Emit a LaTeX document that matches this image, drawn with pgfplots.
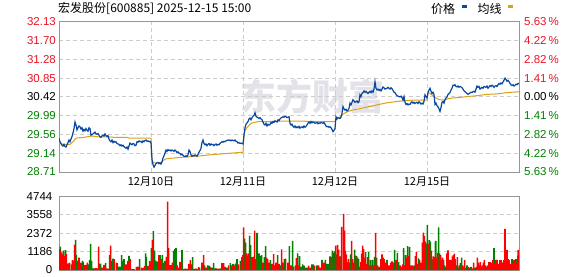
\documentclass[border=0pt]{standalone}
\usepackage{pgfplots}
\pgfplotsset{compat=1.18}
\usepackage{fontspec}
\setmainfont{Liberation Sans}
\newfontfamily\cjk{Noto Sans CJK SC}
\definecolor{pred}{RGB}{235,20,35}
\definecolor{pgreen}{RGB}{0,128,0}
\definecolor{lineblue}{RGB}{10,72,160}
\definecolor{avgorange}{RGB}{220,160,25}
\definecolor{gridgray}{RGB}{204,204,204}
\definecolor{framegray}{RGB}{150,150,150}
\definecolor{barred}{RGB}{255,0,0}
\definecolor{bargreen}{RGB}{0,128,0}
\definecolor{wm}{RGB}{226,226,232}
\newcommand{\numfont}{\fontsize{11.5}{12}\selectfont}
\begin{document}
\begin{tikzpicture}[x=1pt,y=1pt]
\useasboundingbox (0,0) rectangle (578,-276);
% watermark
\node[anchor=center, inner sep=0pt, font=\cjk\bfseries\fontsize{36}{36}\selectfont, text=wm] at (312,-97) {东方财富};
% title
\node[anchor=west, inner sep=0pt, font=\cjk\fontsize{12}{12}\selectfont] at (58,-8.5) {宏发股份[600885] 2025-12-15 15:00};
% legend
\node[anchor=west, inner sep=0pt, font=\cjk\fontsize{12}{12}\selectfont] at (431,-9) {价格};
\fill[lineblue] (462.3,-4.7) rectangle (467,-7.5);
\node[anchor=west, inner sep=0pt, font=\cjk\fontsize{12}{12}\selectfont] at (477.3,-9) {均线};
\fill[avgorange] (508,-4.7) rectangle (513.3,-7.5);

% price axis
\begin{axis}[
  at={(59pt,-172pt)}, anchor=south west, scale only axis,
  width=460pt, height=150pt,
  xmin=0, xmax=460, ymin=28.71, ymax=32.13,
  axis line style={framegray, line width=1pt},
  major tick length=0pt,
  xtick={92,184,276,368},
  xticklabels={12月10日,12月11日,12月12日,12月15日},
  xticklabel style={font=\cjk\fontsize{11}{11}\selectfont, inner sep=0pt, anchor=north, yshift=-4.5pt},
  ytick={28.71,29.14,29.56,29.99,30.42,30.85,31.28,31.70,32.13},
  yticklabels={\textcolor{pgreen}{28.71},\textcolor{pgreen}{29.14},\textcolor{pgreen}{29.56},\textcolor{pgreen}{29.99},30.42,\textcolor{pred}{30.85},\textcolor{pred}{31.28},\textcolor{pred}{31.70},\textcolor{pred}{32.13}},
  yticklabel style={font=\numfont, inner sep=0pt, anchor=east, xshift=-3pt},
  grid=major,
  grid style={gridgray, line width=1pt, dash pattern=on 4pt off 3pt},
]
\addplot[avgorange, line width=1pt] coordinates {
(0,29.40)(2,29.35)(4,29.34)(11,29.34)(14,29.40)(17,29.48)(20,29.49)(25,29.50)(30,29.52)(33,29.53)(40,29.51)(50,29.51)(55,29.50)(68,29.50)(70,29.48)(92,29.48)
(93,28.95)(95,28.92)(102,28.92)(104,28.97)(107,29.01)(111,29.02)(125,29.05)(138,29.07)(150,29.10)(161,29.12)(172,29.14)(184,29.16)
(185,29.55)(186,29.65)(188,29.72)(190,29.77)(192,29.82)(195,29.84)(200,29.86)(210,29.86)(220,29.87)(240,29.87)(260,29.86)(276,29.86)
(277,29.93)(280,29.94)(284,30.03)(288,30.08)(293,30.12)(300,30.15)(310,30.20)(318,30.24)(326,30.28)(335,30.31)(343,30.33)(355,30.35)(368,30.35)
(369,30.52)(371,30.50)(374,30.45)(377,30.40)(380,30.36)(385,30.35)(389,30.38)(395,30.40)(401,30.41)(408,30.43)(418,30.45)(428,30.48)(438,30.49)(448,30.52)(460,30.54)
};
\addplot[lineblue, line width=1.2pt] coordinates {
(0,29.48)(1,29.40)(2,29.36)(3,29.32)(4,29.30)(5,29.34)(6,29.29)(7,29.28)(8,29.33)(9,29.38)(10,29.44)(11,29.40)(12,29.46)(13,29.52)(14,29.60)(15,29.70)(16,29.85)(17,29.78)(18,29.67)(19,29.72)(20,29.76)(21,29.74)(22,29.69)(23,29.72)(24,29.64)(25,29.68)(26,29.65)(27,29.70)(28,29.66)(29,29.64)(30,29.72)(31,29.70)(32,29.55)(33,29.56)(34,29.58)(35,29.60)(36,29.62)(37,29.58)(38,29.57)(39,29.59)(40,29.55)(41,29.51)(42,29.50)(43,29.53)(44,29.55)(45,29.53)(46,29.58)(47,29.54)(48,29.52)(49,29.54)(50,29.46)(51,29.42)(52,29.40)(53,29.44)(54,29.38)(55,29.41)(56,29.39)(57,29.40)(58,29.36)(59,29.35)(60,29.34)(61,29.31)(62,29.33)(63,29.30)(64,29.32)(65,29.29)(66,29.27)(67,29.25)(68,29.28)(69,29.23)(70,29.30)(71,29.37)(72,29.35)(73,29.33)(74,29.36)(75,29.35)(76,29.31)(77,29.32)(78,29.40)(79,29.39)(80,29.42)(81,29.40)(82,29.41)(83,29.38)(84,29.42)(85,29.40)(86,29.43)(87,29.44)(88,29.41)(89,29.42)(90,29.40)(91,29.41)(92,29.38)
(93,29.00)(94,28.88)(95,28.82)(96,28.86)(97,28.90)(98,28.92)(99,28.93)(100,28.90)(101,28.92)(102,28.89)(103,28.94)(104,29.03)(105,29.08)(106,29.14)(107,29.21)(108,29.18)(109,29.22)(110,29.20)(111,29.21)(112,29.19)(113,29.21)(114,29.20)(115,29.18)(116,29.21)(117,29.19)(118,29.15)(119,29.17)(120,29.14)(121,29.13)(122,29.10)(123,29.12)(124,29.09)(125,29.07)(126,29.06)(127,29.08)(128,29.06)(129,29.10)(130,29.21)(131,29.18)(132,29.10)(133,29.07)(134,29.09)(135,29.08)(136,29.10)(137,29.09)(138,29.07)(139,29.11)(140,29.16)(141,29.20)(142,29.25)(143,29.38)(144,29.44)(145,29.36)(146,29.33)(147,29.35)(148,29.31)(149,29.34)(150,29.36)(151,29.32)(152,29.35)(153,29.33)(154,29.34)(155,29.31)(156,29.33)(157,29.35)(158,29.32)(159,29.34)(160,29.33)(161,29.36)(162,29.38)(163,29.40)(164,29.39)(165,29.41)(166,29.40)(167,29.42)(168,29.43)(169,29.44)(170,29.43)(171,29.44)(172,29.42)(173,29.44)(174,29.43)(175,29.42)(176,29.44)(177,29.41)(178,29.40)(179,29.37)(180,29.38)(181,29.36)(182,29.37)(183,29.36)(184,29.35)
(185,29.55)(186,29.72)(187,29.80)(188,29.83)(189,29.86)(190,29.92)(191,29.94)(192,29.90)(193,29.95)(194,29.98)(195,30.00)(196,30.06)(197,29.98)(198,29.96)(199,29.95)(200,29.93)(201,29.95)(202,29.92)(203,29.90)(204,29.85)(205,29.80)(206,29.78)(207,29.82)(208,29.76)(209,29.80)(210,29.78)(211,29.79)(212,29.84)(213,29.82)(214,29.86)(215,29.84)(216,29.88)(217,29.86)(218,29.85)(219,29.90)(220,29.88)(221,29.92)(222,29.94)(223,29.96)(224,29.97)(225,29.96)(226,29.98)(227,29.97)(228,29.95)(229,29.96)(230,29.97)(231,29.82)(232,29.78)(233,29.80)(234,29.75)(235,29.73)(236,29.76)(237,29.72)(238,29.74)(239,29.72)(240,29.75)(241,29.71)(242,29.73)(243,29.74)(244,29.72)(245,29.76)(246,29.73)(247,29.75)(248,29.78)(249,29.82)(250,29.85)(251,29.82)(252,29.86)(253,29.83)(254,29.85)(255,29.84)(256,29.82)(257,29.83)(258,29.84)(259,29.81)(260,29.83)(261,29.82)(262,29.84)(263,29.83)(264,29.82)(265,29.84)(266,29.80)(267,29.76)(268,29.74)(269,29.75)(270,29.73)(271,29.74)(272,29.72)(273,29.68)(274,29.63)(275,29.66)(276,29.70)
(277,29.97)(278,29.92)(279,29.95)(280,29.94)(281,29.93)(282,29.96)(283,30.05)(284,30.20)(285,30.15)(286,30.12)(287,30.14)(288,30.10)(289,30.12)(290,30.16)(291,30.28)(292,30.24)(293,30.30)(294,30.36)(295,30.33)(296,30.30)(297,30.31)(298,30.33)(299,30.29)(300,30.31)(301,30.47)(302,30.43)(303,30.50)(304,30.52)(305,30.56)(306,30.53)(307,30.55)(308,30.52)(309,30.50)(310,30.53)(311,30.55)(312,30.52)(313,30.56)(314,30.53)(315,30.60)(316,30.77)(317,30.62)(318,30.58)(319,30.60)(320,30.57)(321,30.59)(322,30.56)(323,30.60)(324,30.65)(325,30.63)(326,30.60)(327,30.61)(328,30.62)(329,30.64)(330,30.62)(331,30.60)(332,30.63)(333,30.61)(334,30.57)(335,30.53)(336,30.52)(337,30.48)(338,30.45)(339,30.44)(340,30.43)(341,30.42)(342,30.44)(343,30.41)(344,30.35)(345,30.43)(346,30.30)(347,30.25)(348,30.27)(349,30.24)(350,30.26)(351,30.25)(352,30.29)(353,30.31)(354,30.28)(355,30.30)(356,30.27)(357,30.29)(358,30.30)(359,30.27)(360,30.31)(361,30.29)(362,30.26)(363,30.28)(364,30.26)(365,30.32)(366,30.47)(367,30.43)(368,30.40)
(369,30.52)(370,30.58)(371,30.62)(372,30.55)(373,30.50)(374,30.53)(375,30.48)(376,30.25)(377,30.28)(378,30.22)(379,30.20)(380,30.15)(381,30.09)(382,30.18)(383,30.30)(384,30.32)(385,30.28)(386,30.36)(387,30.40)(388,30.42)(389,30.48)(390,30.50)(391,30.52)(392,30.58)(393,30.62)(394,30.69)(395,30.68)(396,30.70)(397,30.66)(398,30.65)(399,30.67)(400,30.64)(401,30.66)(402,30.65)(403,30.63)(404,30.60)(405,30.56)(406,30.54)(407,30.52)(408,30.50)(409,30.48)(410,30.50)(411,30.51)(412,30.53)(413,30.52)(414,30.54)(415,30.55)(416,30.53)(417,30.60)(418,30.67)(419,30.64)(420,30.66)(421,30.60)(422,30.62)(423,30.64)(424,30.62)(425,30.66)(426,30.65)(427,30.64)(428,30.67)(429,30.62)(430,30.65)(431,30.68)(432,30.66)(433,30.69)(434,30.67)(435,30.64)(436,30.67)(437,30.68)(438,30.66)(439,30.70)(440,30.73)(441,30.71)(442,30.74)(443,30.72)(444,30.76)(445,30.80)(446,30.85)(447,30.82)(448,30.78)(449,30.80)(450,30.77)(451,30.73)(452,30.70)(453,30.68)(454,30.70)(455,30.67)(456,30.69)(457,30.71)(458,30.70)(459,30.73)(460,30.72)
};
\end{axis}

% right percentage axis
\begin{axis}[
  at={(59pt,-172pt)}, anchor=south west, scale only axis,
  width=460pt, height=150pt,
  xmin=0, xmax=460, ymin=28.71, ymax=32.13,
  hide x axis, axis y line*=right,
  y axis line style={framegray, line width=1pt, -},
  major tick length=0pt,
  ytick={28.71,29.14,29.56,29.99,30.42,30.85,31.28,31.70,32.13},
  yticklabels={\textcolor{pgreen}{5.63\,\%},\textcolor{pgreen}{4.22\,\%},\textcolor{pgreen}{2.82\,\%},\textcolor{pgreen}{1.41\,\%},0.00\,\%,\textcolor{pred}{1.41\,\%},\textcolor{pred}{2.82\,\%},\textcolor{pred}{4.22\,\%},\textcolor{pred}{5.63\,\%}},
  yticklabel style={font=\numfont, inner sep=0pt, anchor=west, xshift=5pt},
]
\end{axis}

% volume axis
\begin{axis}[
  at={(59pt,-270pt)}, anchor=south west, scale only axis,
  width=460pt, height=73.7pt,
  xmin=0, xmax=460, ymin=0, ymax=4744,
  axis line style={framegray, line width=1pt},
  major tick length=0pt,
  xtick=\empty,
  ytick={0,1186,2372,3558,4744},
  yticklabels={0,1186,2372,3558,4744},
  yticklabel style={font=\numfont, inner sep=0pt, anchor=east, xshift=-6.5pt},
  ymajorgrids,
  grid style={gridgray, line width=1pt, dash pattern=on 4pt off 3pt},
]
\addplot[ybar, bar width=1.6, bar shift=0pt, fill=bargreen, draw=none] coordinates {
(1.3,1500)(4.5,1250)(6.6,1280)(12.3,370)(16.6,1940)(17.3,960)(18.3,590)(23.3,590)(24,520)(29.6,370)(30.6,630)(31.6,1680)(32.6,590)(34,100)(36,80)(38,110)(40.6,410)(41.6,410)(46.6,440)(50.6,960)(52.6,590)(54,740)(58.3,440)(59.3,200)(60.3,220)(61.3,200)(62.6,960)(64,590)(65,700)(70,910)(74,50)(80.6,700)(86.6,1070)(87.3,850)(92.3,1410)(94.3,2500)(95.6,1240)(96.6,600)(97.8,550)(99,500)(101,960)(103.3,960)(106,590)(114.6,1240)(116,1350)(117,1410)(123,1300)(127,80)(133.6,830)(136,70)(138,80)(140.6,150)(145.6,300)(148.6,300)(150.3,280)(153,150)(154.6,440)(156,100)(158,90)(161.3,100)(168,150)(171.3,440)(174,400)(176.3,400)(177.3,480)(178,700)(181.3,590)(183,830)(185.6,2020)(186.6,1760)(190.6,2220)(191.6,1600)(194.6,860)(198,2390)(199,420)(200,1070)(201.3,900)(202.6,960)(205.3,830)(206.6,1540)(211.3,630)(218.6,960)(221.3,300)(225.3,700)
(230.3,1540)(233.6,1870)(236.3,300)(238.6,1070)(240.6,900)(242,200)(243.6,370)(245,280)(248,150)(253,370)(254.3,370)(258,300)(263,650)(266.3,650)(268,400)(269.6,400)(271,870)(273.3,1240)(274.6,1100)(275.6,1200)(277.6,1000)(281.6,880)(285,2350)(286.3,1240)(290.6,480)(291.6,1000)(295.6,1310)(297.6,900)(298.6,800)(299.6,700)(306.6,1150)(309.6,1150)(311.6,650)(313.6,650)(315.6,850)(317.6,800)(319.6,200)(321,200)(324,800)(328,650)(334,480)(335.6,1290)(338.3,1100)(339.6,500)(342.3,200)(344.6,1410)
(346.6,960)(348.6,1540)(350.6,1480)(354,250)(355.3,300)(359.6,750)(367.3,1700)(368.3,2900)(370.3,1920)(371.3,1830)(373.3,680)(376.3,1830)(376.9,1870)(379.6,2740)(380.6,1070)(382.6,650)(384.6,650)(385.6,300)(386.6,200)(390,650)(391,300)(396.3,700)(397.3,300)(399.3,150)(401.3,450)(402.6,800)(404.6,200)(407,150)(408,300)(410.6,150)(412,200)(416,150)(420.3,300)(422.3,200)(426.6,300)(433,300)(435,1410)(437,650)(439,300)(441,630)(443,480)(445,650)(447,870)(449,700)(451,300)(453,700)(455,650)(457,700)
};
\addplot[ybar, bar width=1.6, bar shift=0pt, fill=barred, draw=none] coordinates {
(0.8,1350)(2.5,1130)(3.5,1000)(5,900)(7.3,1020)(8.5,400)(9.5,420)(10.6,480)(13.3,630)(14.6,600)(15.6,1630)(20,800)(21.3,480)(22.3,450)(25.6,330)(26.5,300)(27.3,330)(28.3,480)(35,100)(37,120)(39.6,1500)(42.6,150)(44,160)(45,330)(46,300)(48,100)(49.3,90)(51.6,1570)(55,700)(57.3,480)(65.6,260)(66.6,370)(68,370)(69,590)(71.3,700)(73,50)(75,60)(77.3,200)(79,220)(82.3,150)(84,140)(85.6,260)(89,260)(90.6,590)(91.6,560)(93.3,1940)(100,960)(102,700)(104.6,480)(107.3,850)(108.6,4395)(109.6,1410)(110.6,300)(111.5,320)(112.3,300)(113.3,480)
(118,300)(119.6,150)(121,520)(124.6,80)(126,90)(128,80)(129.6,400)(131.3,630)(132.3,370)(135,80)(137,90)(139.6,200)(143,480)(144.6,960)(147,150)(151.3,200)(157,100)(160,90)(163,440)(164.6,440)(166.3,200)(169.6,300)(173,300)(175,300)(179.6,370)(182.3,400)(184,960)(184.6,2740)(187.6,1070)(188.6,920)(189.6,1070)(192.6,830)(193.6,830)(195.6,2540)(196.6,700)(204,480)(207.6,800)(208.6,700)(210,480)(213,400)(214.6,1020)(215.6,300)(217,480)(220,400)(222.6,1320)(224,480)(226.6,740)
(229,480)(231.3,300)(232.3,300)(234.6,200)(237.3,760)(239.6,300)(246.3,150)(249.6,280)(251.3,150)(255.6,280)(259.6,300)(261.3,150)(264,480)(265.3,480)(272.3,850)(276.6,1570)(278.6,1610)(279.6,1310)(280.6,870)(282.6,2780)(284.6,3620)(285.6,2540)(287.3,1000)(288.6,500)(289.6,700)(292.6,1870)(293.6,700)(294.6,480)(296.6,920)(300.6,200)(301.6,500)(302.6,1050)(303.6,1570)(304.6,1350)(305.6,800)(307.6,400)(308.6,830)(310.6,300)(312.6,300)(315,300)(316.6,2390)(318.6,300)(322,700)(323,1000)(325,700)(326,400)(327,480)(329,300)(330.3,300)(331.6,480)(333,560)(337,650)(341,300)(343.6,370)
(342,200)(345.6,300)(347.6,800)(349.6,900)(351.6,300)(353,300)(356.3,900)(357.3,1150)(358.6,400)(360.6,650)(362,480)(363.3,1760)(364.3,2400)(365.3,2200)(366.3,1830)(369.3,1660)(372.3,1240)(374.3,880)(375.3,850)(377.6,800)(378.6,1110)(381.6,960)(383.6,800)(388,1070)(389,1260)(392,650)(393.3,870)(394.3,960)(395.3,1050)(398.3,830)(400.3,300)(403.6,300)(405.6,650)(409.3,200)(413.3,100)(414.6,480)(417.3,200)(418.3,800)(419.3,480)(421.3,500)(423.3,300)(424.3,480)(425.3,650)(427.6,200)(428.6,300)(430,500)(431,500)(432,480)(434,630)(436,400)(438,650)(440,400)(442,630)(444,480)(446,2650)(448,1300)(450,650)(452,400)(454,480)(456,650)(458,480)(459,920)(459.2,1300)
};
\end{axis}
\end{tikzpicture}
\end{document}
